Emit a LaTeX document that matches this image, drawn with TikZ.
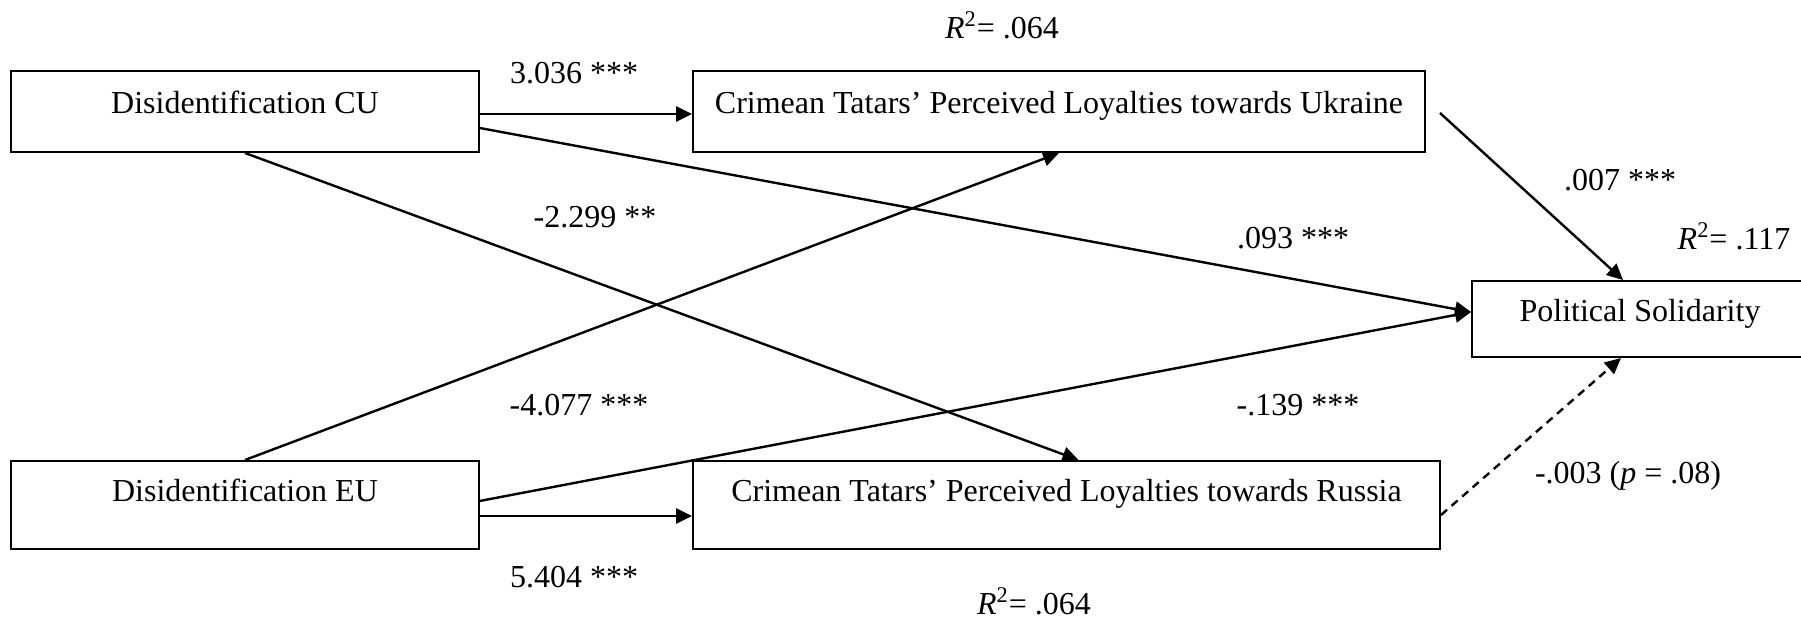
\documentclass[tikz,border=0pt]{standalone}
\usepackage{fontspec}
\setmainfont{Liberation Serif}
\usetikzlibrary{arrows.meta}

\begin{document}
\begin{tikzpicture}[x=0.5pt,y=-0.5pt,font=\fontsize{16}{19}\selectfont,
  var/.style={draw,line width=1pt,inner sep=0pt,minimum height=40.5pt,text height=11pt,text depth=9pt},
  lowvar/.style={var,minimum height=44pt,text depth=14pt},
  coef/.style={inner sep=0pt,text height=11pt,text depth=0pt},
  eff/.style={line width=1.2pt,-{Triangle[length=8pt,width=7.5pt]}}]
\useasboundingbox (0,0) rectangle (1801,624);
% variables
\node[var,minimum width=233.75pt] (cu) at (245,111.5) {Disidentification CU};
\node[var,minimum width=366pt] (ua) at (1059,111.5) {Crimean Tatars’ Perceived Loyalties towards Ukraine};
\node[lowvar,minimum width=233.75pt] (eu) at (245,505) {Disidentification EU};
\node[lowvar,minimum width=373.5pt] (ru) at (1066.5,505) {Crimean Tatars’ Perceived Loyalties towards Russia};
\node[var,minimum width=168pt,minimum height=38pt,text depth=8.3pt] (ps) at (1640,319) {Political Solidarity};
% paths
\draw[eff,line width=1.4pt] ([yshift=-1.25pt]cu.east) -- ([yshift=-1.25pt]ua.west);
\draw[eff] ([yshift=-8.25pt]cu.east) -- ([yshift=3.5pt]ps.west);
\draw[eff] (cu.south) -- ([xshift=6pt]ru.north);
\draw[eff] (eu.north) -- (ua.south);
\draw[eff] ([yshift=2pt]eu.east) -- ([yshift=3.5pt]ps.west);
\draw[eff,line width=1.4pt] ([yshift=-5.5pt]eu.east) -- ([yshift=-5.5pt]ru.west);
\coordinate (uaout) at (1440,113);
\draw[eff] (uaout) -- ([xshift=76pt]ps.north west);
\draw[eff,dash pattern=on 4pt off 3pt] ([yshift=-5pt]ru.east) -- ([xshift=75pt]ps.south west);
% coefficients
\node[coef] (r2ua) at (1002,28) {\textit{R}\textsuperscript{2}= .064};
\node[coef] (b1) at (574,73) {3.036 ***};
\node[coef] (b2) at (595,217) {-2.299 **};
\node[coef] (b3) at (579,405) {-4.077 ***};
\node[coef] (b4) at (574,577) {5.404 ***};
\node[coef] (b5) at (1293,238) {.093 ***};
\node[coef] (b6) at (1620,180) {.007 ***};
\node[coef] (r2ps) at (1734,239) {\textit{R}\textsuperscript{2}= .117};
\node[coef] (b7) at (1298,405) {-.139 ***};
\node[coef] (b8) at (1628,473) {-.003 (\textit{p} = .08)};
\node[coef] (r2ru) at (1034,604) {\textit{R}\textsuperscript{2}= .064};
\end{tikzpicture}
\end{document}
